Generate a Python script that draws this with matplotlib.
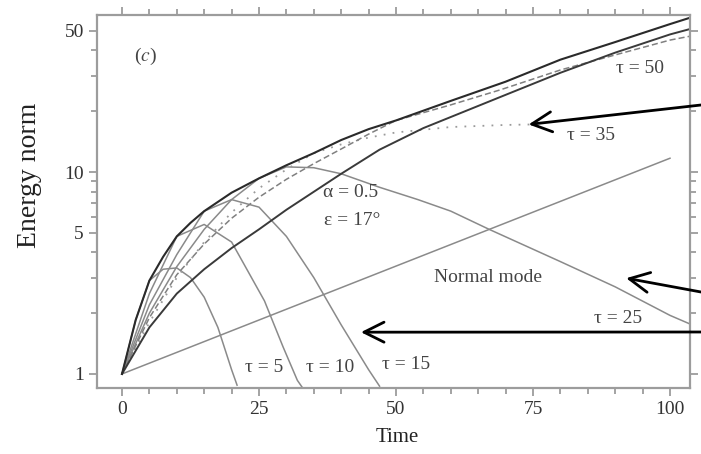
import numpy as np
import matplotlib
matplotlib.use("Agg")
import matplotlib.pyplot as plt
from matplotlib.ticker import FixedLocator, NullFormatter

plt.rcParams['font.family'] = ['Liberation Serif', 'DejaVu Serif']
plt.rcParams['mathtext.fontset'] = 'stix'

# Maximum-growth envelope
t_env = [0, 2.5, 5, 7.5, 10, 12.5, 15, 20, 25, 30, 35, 40, 45, 50, 60, 70, 80, 90, 100, 103.6]
e_env = [1, 1.85, 2.9, 3.8, 4.8, 5.6, 6.4, 7.9, 9.3, 10.8, 12.4, 14.4, 16.3, 18.0, 22.5, 28.0, 36.0, 44.0, 54.0, 58.0]

# Second bold curve (slow initial growth)
t_bold2 = [0, 5, 10, 15, 20, 25, 30, 40, 47, 55, 69, 80, 90, 100, 103.6]
e_bold2 = [1, 1.7, 2.5, 3.3, 4.2, 5.2, 6.5, 9.8, 12.9, 16.5, 23.5, 31.0, 39.0, 48.0, 51.0]

# Optimal perturbations for individual target times tau
t_tau5 = [0, 2.5, 5, 7.5, 10, 12.5, 15, 17.5, 20, 21]
e_tau5 = [1, 1.85, 2.9, 3.3, 3.35, 3.0, 2.4, 1.7, 1.05, 0.88]

t_tau10 = [0, 5, 10, 15, 20, 22, 26, 29.4, 32, 33]
e_tau10 = [1, 2.5, 4.8, 5.5, 4.5, 3.6, 2.3, 1.36, 0.93, 0.85]

t_tau15 = [0, 5, 10, 15, 20, 25, 30, 35, 40, 45, 47]
e_tau15 = [1, 2.2, 3.9, 6.4, 7.3, 6.7, 4.8, 3.0, 1.75, 1.05, 0.87]

t_tau25 = [0, 5, 10, 15, 20, 25, 30, 35, 40, 47, 54, 60, 67, 80, 90, 100, 103.6]
e_tau25 = [1, 2.0, 3.4, 5.2, 7.3, 9.3, 10.6, 10.5, 9.8, 8.4, 7.3, 6.4, 5.2, 3.6, 2.7, 1.95, 1.77]

t_tau35 = [0, 5, 10, 15, 20, 25, 30, 35, 40, 45, 50, 60, 70, 75]
e_tau35 = [1, 1.8, 3.0, 4.5, 6.3, 8.3, 10.3, 12.4, 13.7, 14.8, 15.7, 16.7, 17.1, 17.2]

t_tau50 = [0, 5, 10, 15, 20, 25, 30, 35, 40, 45, 50, 60, 69, 80, 90, 100, 103.6]
e_tau50 = [1, 1.9, 3.1, 4.4, 5.9, 7.5, 9.2, 11.0, 13.0, 15.4, 18.0, 21.5, 25.5, 32.0, 38.0, 45.0, 47.0]

# Normal mode: exponential growth
t_normal = [0, 100]
e_normal = [1, 11.7]

x_ticks = [0, 25, 50, 75, 100]
y_ticks = [1, 5, 10, 50]
y_ticklabels = ["1", "5", "10", "50"]

W, H = 701, 454
fig = plt.figure(figsize=(W / 100, H / 100), dpi=100)
ax = fig.add_axes([97 / W, 1 - 388 / H, (690 - 97) / W, (388 - 15) / H])

grey = '#8a8a8a'
ax.plot(t_normal, e_normal, color=grey, lw=1.1)
ax.plot(t_tau5, e_tau5, color=grey, lw=1.1)
ax.plot(t_tau10, e_tau10, color=grey, lw=1.1)
ax.plot(t_tau15, e_tau15, color=grey, lw=1.1)
ax.plot(t_tau25, e_tau25, color=grey, lw=1.1)
ax.plot(t_tau35, e_tau35, color='#9a9a9a', lw=1.3, ls=(0, (1, 4)))
ax.plot(t_tau50, e_tau50, color='#808080', lw=1.1, ls=(0, (4, 2)))
ax.plot(t_bold2, e_bold2, color='#3a3a3a', lw=1.4)
ax.plot(t_env, e_env, color='#2a2a2a', lw=1.5)

ax.set_yscale('log')
ax.set_xlim(-4.56, 103.65)
ax.set_ylim(0.852, 59.9)

ax.xaxis.set_major_locator(FixedLocator(x_ticks))
ax.xaxis.set_minor_locator(FixedLocator(np.arange(0, 105, 5)))
ax.yaxis.set_major_locator(FixedLocator(y_ticks))
ax.set_yticklabels(y_ticklabels)
ax.yaxis.set_minor_locator(FixedLocator([2, 3, 4, 6, 7, 8, 9, 20, 30, 40]))
ax.yaxis.set_minor_formatter(NullFormatter())

spine_col = '#9c9c9c'
for s in ax.spines.values():
    s.set_color(spine_col)
    s.set_linewidth(1.6)
ax.tick_params(which='both', direction='out', color=spine_col, width=1.3,
               top=True, right=True, labelsize=14, labelcolor='#333333')
ax.tick_params(which='major', length=6)
ax.tick_params(which='minor', length=4)

ax.set_xlabel('Time', fontsize=15, color='#222222')
ax.xaxis.set_label_coords(0.506, -0.107)
ax.set_ylabel('Energy norm', fontsize=20, color='#222222')
ax.yaxis.set_label_coords(-0.092, 0.571)

txt = dict(fontsize=14, color='#444444')
ax.text(4.2, 37.2, '($c$)', ha='center', va='center', **txt)
ax.text(94.5, 32.7, 'τ = 50', ha='center', va='center', **txt)
ax.text(85.6, 15.2, 'τ = 35', ha='center', va='center', **txt)
ax.text(36.7, 7.95, 'α = 0.5', ha='left', va='center', **txt)
ax.text(36.9, 5.78, 'ε = 17°', ha='left', va='center', **txt)
ax.text(66.8, 3.02, 'Normal mode', ha='center', va='center', **txt)
ax.text(90.5, 1.89, 'τ = 25', ha='center', va='center', **txt)
ax.text(25.9, 1.08, 'τ = 5', ha='center', va='center', **txt)
ax.text(38.0, 1.08, 'τ = 10', ha='center', va='center', **txt)
ax.text(51.8, 1.12, 'τ = 15', ha='center', va='center', **txt)

arrow = dict(arrowstyle='->, head_length=0.9, head_width=0.45', color='black',
             lw=2.0, mutation_scale=16, shrinkA=0, shrinkB=0)
ax.annotate('', xy=(74.2, 17.2), xytext=(1.0, 1 - 105 / H),
            textcoords='figure fraction', arrowprops=arrow, annotation_clip=False)
ax.annotate('', xy=(92.0, 2.98), xytext=(1.0, 1 - 292 / H),
            textcoords='figure fraction', arrowprops=arrow, annotation_clip=False)
ax.annotate('', xy=(43.6, 1.61), xytext=(1.0, 1 - 332 / H),
            textcoords='figure fraction', arrowprops=arrow, annotation_clip=False)

fig.savefig('out.png', dpi=100)
